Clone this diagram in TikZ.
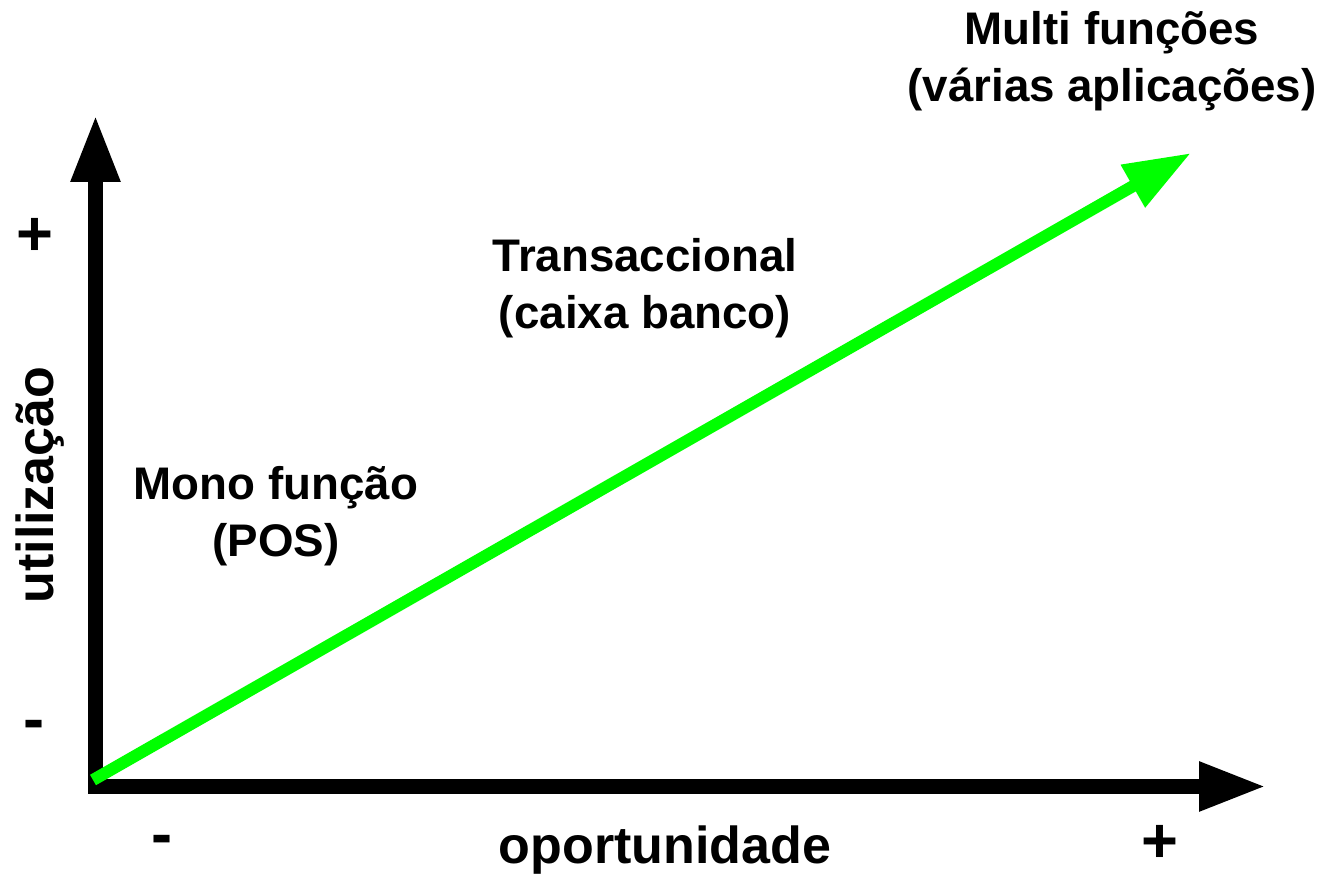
\documentclass[tikz,border=0pt]{standalone}
\usepackage{fontspec}
\setmainfont{Liberation Sans}
\usetikzlibrary{arrows.meta}

\tikzset{
  eixo/.style={line width=0.145cm,-{Triangle[length=0.67cm,width=0.46cm]}},
  seta/.style={line width=0.12cm,green,-{Triangle[length=0.67cm,width=0.46cm]}},
  rotulo/.style={align=center,font=\fontsize{13}{16.2}\selectfont\bfseries,inner sep=0pt},
  titeixo/.style={rotulo,font=\fontsize{14.8}{17}\selectfont\bfseries},
  sinal/.style={rotulo,font=\fontsize{18}{19}\selectfont\bfseries}
}

\begin{document}
\begin{tikzpicture}
   \useasboundingbox (0,0) rectangle (13.30,8.75);
   \coordinate (O) at (0.88,0.885);
   \coordinate (Ov) at (0.955,0.81);
   \coordinate (Y) at (0.955,7.60);
   \coordinate (X) at (12.66,0.885);
   \coordinate (G0) at (0.93,0.95);
   \coordinate (G1) at (11.91,7.22);
   \draw[eixo] (Ov) -- (Y);
   \draw[eixo] (O) -- (X);
   \draw[seta] (G0) -- (G1);
   % textos
   \node[rotulo] (multi) at (11.12,8.14) {Multi funções\\(várias aplicações)};
   \node[rotulo] (trans) at (6.45,5.87) {Transaccional\\(caixa banco)};
   \node[rotulo] (mono) at (2.76,3.59) {Mono função\\(POS)};
   \node[titeixo] (oport) at (6.65,0.25) {oportunidade};
   \node[titeixo,rotate=90] (util) at (0.40,3.90) {utilização};
   \node[sinal] (ymais) at (0.35,6.38) {+};
   \node[sinal] (ymenos) at (0.34,1.45) {-};
   \node[sinal] (xmenos) at (1.62,0.30) {-};
   \node[sinal] (xmais) at (11.60,0.31) {+};
\end{tikzpicture}
\end{document}
